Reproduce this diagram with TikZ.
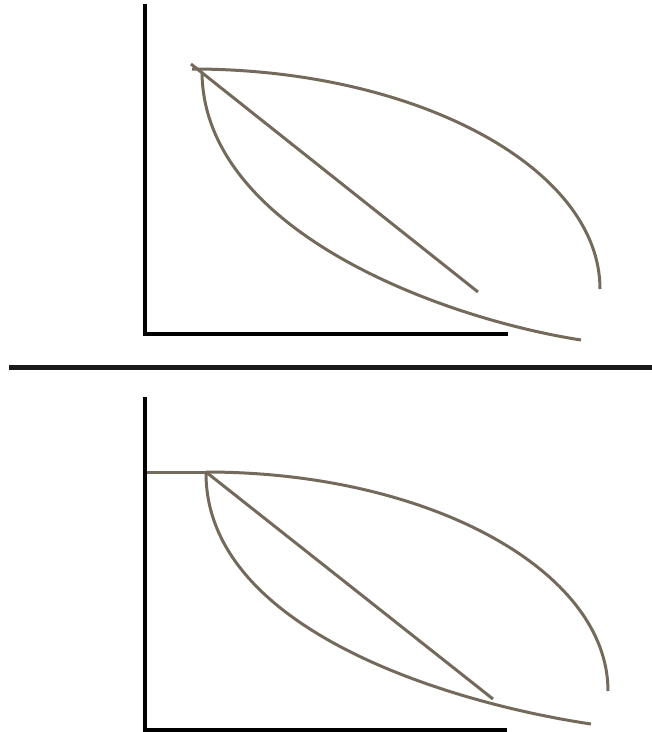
\documentclass[tikz,border=0pt]{standalone}
\usetikzlibrary{positioning}

\begin{document}
\begin{tikzpicture}[
  x=0.75pt, y=-0.75pt,
  axis/.style={line width=3pt, black},
  divider/.style={line width=3.75pt, black!90},
  curve/.style={line width=2.25pt, draw={rgb,255:red,115;green,106;blue,92}}
]
\useasboundingbox (0,0) rectangle (652,732);

% --- Top panel ---
\coordinate (ty) at (145,4);
\coordinate (to) at (145,334);
\coordinate (tx) at (508,334);
\draw[axis] (ty) -- (to) -- (tx);

\coordinate (tstart) at (191,64);
\coordinate (tup) at (192,69);
\coordinate (tlow) at (202,72);
\coordinate (tdiag) at (478,292);
\coordinate (tupend) at (600,289);
\coordinate (tlowend) at (581,340);

\draw[curve] (tup) .. controls (417,69) and (600,168) .. (tupend);
\draw[curve] (tstart) -- (tdiag);
\draw[curve] (tlow) .. controls (203,230) and (440,318) .. (tlowend);

% --- Divider ---
\coordinate (dl) at (9,367);
\coordinate (dr) at (652,367);
\draw[divider] (dl) -- (dr);

% --- Bottom panel ---
\coordinate (by) at (145,397);
\coordinate (bo) at (145,730);
\coordinate (bx) at (507,730);
\draw[axis] (by) -- (bo) -- (bx);

\coordinate (bflat) at (147,472);
\coordinate (bstart) at (206,472);
\coordinate (blow) at (206,474);
\coordinate (bdiag) at (493,699);
\coordinate (bupend) at (608,691);
\coordinate (blowend) at (591,724);

\draw[curve] (bflat) -- (bstart);
\draw[curve] (bstart) .. controls (428,472) and (608,570) .. (bupend);
\draw[curve] (bstart) -- (bdiag);
\draw[curve] (blow) .. controls (207,630) and (450,703) .. (blowend);

\end{tikzpicture}
\end{document}
